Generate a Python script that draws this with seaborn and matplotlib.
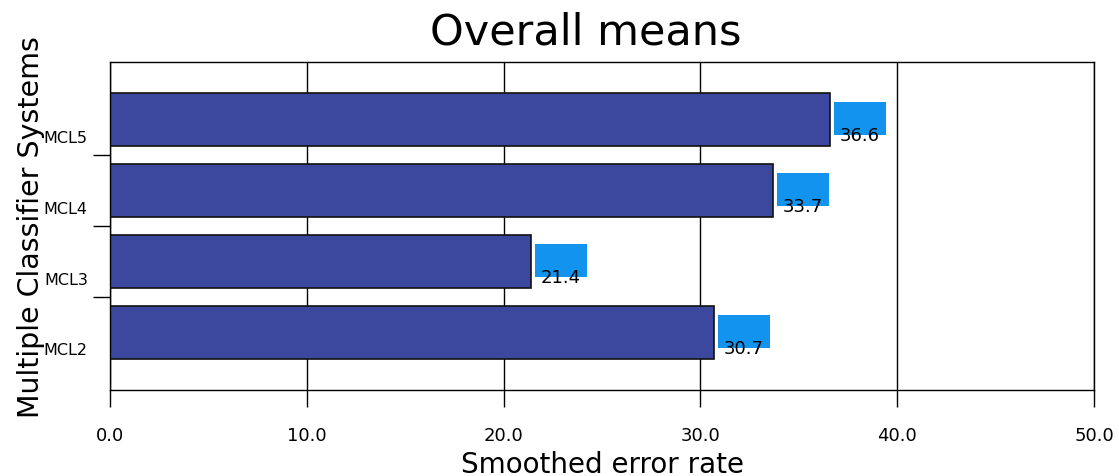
import matplotlib
matplotlib.use("Agg")
import matplotlib.pyplot as plt
import matplotlib.transforms as mtransforms
from matplotlib.patches import Rectangle
import seaborn as sns

# data, top to bottom
systems = ["MCL5", "MCL4", "MCL3", "MCL2"]
error_rate = [36.6, 33.7, 21.4, 30.7]
x_ticks = [0, 10, 20, 30, 40, 50]

bar_color = "#3c479e"
box_color = "#1193ee"

plt.rcParams["font.family"] = ["DejaVu Sans"]

fig = plt.figure(figsize=(11.19, 4.77), dpi=100)
ax = fig.add_axes([0.0983, 0.1803, 0.8794, 0.6876])

sns.barplot(x=error_rate, y=systems, orient="h", color=bar_color,
            saturation=1, edgecolor="#111111", linewidth=1.2, width=0.76, ax=ax)

ax.set_xlim(0, 50)
ax.set_ylim(3.81, -0.81)
ax.set_axisbelow(True)
ax.xaxis.grid(True, color="black", linewidth=1)

for sp in ax.spines.values():
    sp.set_color("black")
    sp.set_linewidth(1)

# x axis
ax.set_xticks(x_ticks)
ax.set_xticklabels([f"{t:.1f}" for t in x_ticks], fontsize=13)
ax.tick_params(axis="x", length=12, width=1, pad=14, direction="out")

# y axis: labels without ticks, ticks between categories
ax.set_yticks(range(len(systems)))
ax.set_yticklabels(systems, fontsize=11.5)
ax.tick_params(axis="y", which="major", length=0, pad=16)
ax.set_yticks([i + 0.5 for i in range(len(systems) - 1)], minor=True)
ax.tick_params(axis="y", which="minor", length=12, width=1, direction="out")
shift = mtransforms.ScaledTranslation(0, -0.16, fig.dpi_scale_trans)
for lab in ax.get_yticklabels():
    lab.set_transform(lab.get_transform() + shift)

# value labels with blue boxes
for i, v in enumerate(error_rate):
    ax.add_patch(Rectangle((v + 0.2, i - 0.24), 2.64, 0.465,
                           facecolor=box_color, edgecolor="none", zorder=3))
    ax.annotate(f"{v:.1f}", xy=(v, i), xytext=(6.5, -11),
                textcoords="offset points", ha="left", va="center",
                fontsize=13, color="black", zorder=4)

ax.set_title("Overall means", fontsize=31, x=0.483, pad=13)
ax.set_xlabel("Smoothed error rate", fontsize=20, labelpad=4)
ax.set_ylabel("Multiple Classifier Systems", fontsize=20.5)
ax.yaxis.set_label_coords(-0.066, 0.5)

fig.savefig("out.png", dpi=100)
